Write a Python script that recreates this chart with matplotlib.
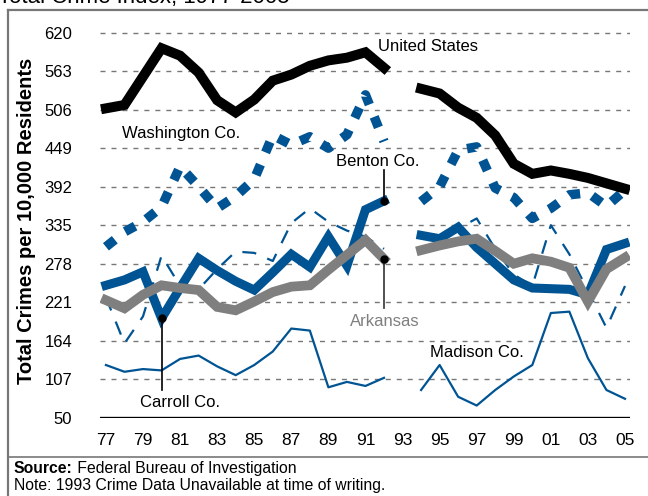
import matplotlib
matplotlib.use("Agg")
import matplotlib.pyplot as plt
from matplotlib.lines import Line2D

plt.rcParams['font.family'] = ['Liberation Sans', 'DejaVu Sans']

# 연도 (1993 자료 없음)
years1 = list(range(1977, 1993))
years2 = list(range(1994, 2006))

# United States
us1 = [508, 513, 555, 597, 586, 561, 520, 502, 521, 549, 558, 571, 579, 583, 591, 568]
us2 = [537, 530, 509, 494, 468, 426, 411, 416, 411, 405, 397, 389]
# Washington Co.
wash1 = [303, 325, 340, 362, 422, 392, 360, 378, 403, 468, 454, 466, 449, 469, 528, 459]
wash2 = [370, 392, 446, 451, 390, 376, 345, 360, 380, 383, 363, 387]
# Benton Co. (굵은 파란 실선)
benton1 = [246, 254, 266, 197, 242, 286, 268, 252, 239, 265, 292, 273, 318, 275, 358, 371]
benton2 = [320, 315, 332, 302, 278, 254, 242, 241, 240, 232, 299, 308]
# Arkansas
ark1 = [224, 212, 232, 246, 242, 239, 214, 209, 222, 236, 244, 246, 269, 291, 313, 285]
ark2 = [298, 305, 311, 315, 297, 278, 286, 281, 272, 222, 270, 287]
# Carroll Co. (가는 점선)
carroll1 = [228, 160, 200, 290, 245, 240, 270, 296, 294, 282, 338, 360, 340, 327, 318, 300]
carroll2 = [318, 322, 330, 345, 300, 262, 245, 335, 292, 238, 183, 245]
# Madison Co.
madison1 = [128, 118, 122, 120, 137, 142, 126, 113, 128, 148, 182, 179, 95, 103, 97, 109]
madison2 = [91, 128, 81, 68, 91, 111, 128, 205, 207, 138, 91, 78]

yticks = list(range(50, 621, 57))
xticks = list(range(1977, 2006, 2))
xlabels = ["%02d" % (y % 100) for y in xticks]

blue = "#005493"
gray = "#7f7f7f"

fig = plt.figure(figsize=(6.48, 4.96), dpi=100)
ax = fig.add_axes([100/648, 1-417.7/496, 530/648, (417.7-25)/496])
ax.set_xlim(1976.68, 2005.27)
ax.set_ylim(50, 631.4)

def draw(y1, y2, **kw):
    ax.plot(years1, y1, **kw)
    ax.plot(years2, y2, **kw)

draw(carroll1, carroll2, color=blue, lw=1.6, linestyle=(0, (6.3, 5.4)), zorder=2)
draw(madison1, madison2, color=blue, lw=1.6, zorder=2)
draw(wash1, wash2, color=blue, lw=6.8, linestyle=(0, (1.2, 1.4)), dash_capstyle='butt', zorder=3)
draw(benton1, benton2, color=blue, lw=6.5, zorder=4, solid_joinstyle='miter')
draw(ark1, ark2, color=gray, lw=7, zorder=5, solid_joinstyle='miter')
draw(us1, us2, color='black', lw=7.2, zorder=6, solid_joinstyle='miter')

# 격자, 축
ax.set_yticks(yticks)
ax.set_xticks(xticks, xlabels)
ax.tick_params(length=0, labelsize=12.5)
ax.tick_params(axis='y', pad=20, labelsize=12)
ax.tick_params(axis='x', pad=11)
for v in yticks[1:]:
    ax.axhline(v, color='#777777', lw=1.0, linestyle=(0, (3.6, 4.3)), zorder=1)
ax.axhline(50, color='black', lw=2.4, zorder=7)
for s in ax.spines.values():
    s.set_visible(False)
ax.set_ylabel("Total Crimes per 10,000 Residents", fontsize=14.5, fontweight='bold', labelpad=6)

# 라벨
ax.text(1991.67, 600, "United States", fontsize=12, ha='left', va='center')
ax.text(1977.86, 471.5, "Washington Co.", fontsize=12, ha='left', va='center')
ax.text(1991.67, 428.6, "Benton Co.", fontsize=12, ha='center', va='center')
ax.text(1992.05, 191.7, "Arkansas", fontsize=12, ha='center', va='center', color=gray)
ax.text(1981.0, 73, "Carroll Co.", fontsize=12, ha='center', va='center')
ax.text(1994.5, 145.8, "Madison Co.", fontsize=12, ha='left', va='center')

# 지시선
ax.plot([1992, 1992], [416.7, benton1[-1]], color='black', lw=1.2, zorder=8)
ax.plot([1992], [benton1[-1]], 'o', color='black', ms=5, zorder=8)
ax.plot([1992, 1992], [ark1[-1], 212], color='#333333', lw=1.2, zorder=8)
ax.plot([1992], [ark1[-1]], 'o', color='black', ms=5, zorder=8)
ax.plot([1980, 1980], [benton1[3], 91], color='black', lw=1.2, zorder=8)
ax.plot([1980], [benton1[3]], 'o', color='black', ms=5, zorder=8)

# 테두리
fig.add_artist(Line2D([8/648, 1], [1-10/496, 1-10/496], color='#777777', lw=1.6))
fig.add_artist(Line2D([8/648, 8/648], [0, 1-10/496], color='#777777', lw=1.6))
fig.add_artist(Line2D([8/648, 1], [1-457/496, 1-457/496], color='#777777', lw=1.2))

# 제목 (위쪽이 잘려 있음)
fig.text(-2/648, 1-3.5/496, "Total Crime Index, 1977-2005", fontsize=16, ha='left', va='baseline')

src = fig.text(14/648, 1-473/496, "Source:", fontsize=11.3, fontweight='bold', va='baseline')
ax.annotate(" Federal Bureau of Investigation", xy=(1, 0), xycoords=src, fontsize=11.3,
            va='bottom', ha='left', annotation_clip=False)
fig.text(14/648, 1-490/496, "Note: 1993 Crime Data Unavailable at time of writing.", fontsize=11.3, va='baseline')

fig.savefig("out.png", dpi=100)
